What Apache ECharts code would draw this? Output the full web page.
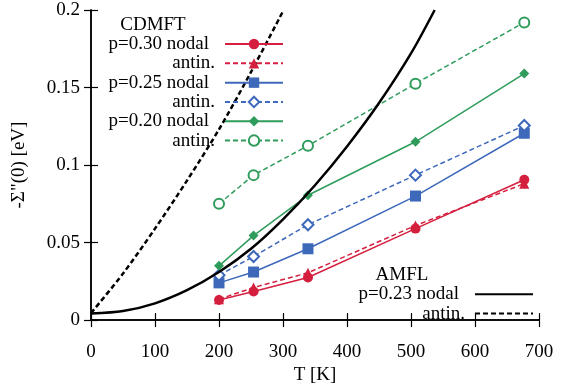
<!DOCTYPE html>
<html>
<head>
<meta charset="utf-8">
<script src="https://cdn.jsdelivr.net/npm/echarts@6/dist/echarts.min.js"></script>
<style>
html,body{margin:0;padding:0;background:#fff;}
#chart{width:570px;height:390px;}
</style>
</head>
<body>
<div id="chart"></div>
<script>
// ---- data ----
const temps = [200, 254, 339, 507, 677];
const p30Nodal = [0.013, 0.0185, 0.0275, 0.059, 0.0905];
const p30Antin = [0.0135, 0.021, 0.0305, 0.061, 0.088];
const p25Nodal = [0.024, 0.031, 0.046, 0.080, 0.1205];
const p25Antin = [0.029, 0.041, 0.0615, 0.0935, 0.1255];
const p20Nodal = [0.035, 0.0545, 0.0805, 0.115, 0.159];
const p20Antin = [0.075, 0.0935, 0.1125, 0.1525, 0.192];

const amflNodalT = [0, 50, 100, 150, 200, 250, 300, 350, 400, 450, 500, 537];
const amflNodalV = [0.0042, 0.0058, 0.0108, 0.0193, 0.031, 0.046, 0.065, 0.087, 0.112, 0.140, 0.172, 0.2];
const amflAntinT = [0, 50, 100, 150, 200, 250, 301];
const amflAntinV = [0.0045, 0.030, 0.059, 0.090, 0.123, 0.160, 0.2];

const xTicks = [0, 100, 200, 300, 400, 500, 600, 700];
const yTicks = [0, 0.05, 0.1, 0.15, 0.2];

const RED = '#d51f3e', BLUE = '#3e69bb', GREEN = '#2f9c5c';
const FONT = 'Liberation Serif';

function pairs(xs, ys) { return xs.map((x, i) => [x, ys[i]]); }

function cdmft(name, vals, color, symbol, size, dashed) {
  const empty = symbol.indexOf('empty') === 0;
  return {
    name, type: 'line', data: pairs(temps, vals),
    symbol, symbolSize: size, showSymbol: true,
    lineStyle: { color, width: 1.5, type: dashed ? [5, 3] : 'solid' },
    itemStyle: empty ? { color, borderColor: color, borderWidth: 1.8 } : { color, borderWidth: 0 },
    z: 2
  };
}

const series = [
  cdmft('p=0.30 nodal', p30Nodal, RED, 'circle', 10, false),
  cdmft('p=0.30 antin.', p30Antin, RED, 'triangle', 10, true),
  cdmft('p=0.25 nodal', p25Nodal, BLUE, 'rect', 11, false),
  cdmft('p=0.25 antin.', p25Antin, BLUE, 'emptyDiamond', 11, true),
  cdmft('p=0.20 nodal', p20Nodal, GREEN, 'diamond', 10, false),
  cdmft('p=0.20 antin.', p20Antin, GREEN, 'emptyCircle', 10, true),
  {
    name: 'p=0.23 nodal', type: 'line', data: pairs(amflNodalT, amflNodalV),
    smooth: 0.3, symbol: 'circle', showSymbol: false,
    lineStyle: { color: '#000', width: 2.5 }, itemStyle: { color: '#000' }, z: 3
  },
  {
    name: 'p=0.23 antin.', type: 'line', data: pairs(amflAntinT, amflAntinV),
    smooth: 0.3, symbol: 'circle', showSymbol: false,
    lineStyle: { color: '#000', width: 2.5, type: [5, 3] }, itemStyle: { color: '#000' }, z: 3
  }
];

const fmtName = n => (n.endsWith('antin.') ? '{a|antin.}' : '{n|' + n + '}');
const richStyles = {
  a: { fontFamily: FONT, fontSize: 19, color: '#000', padding: [0, 0, 0, 0] },
  n: { fontFamily: FONT, fontSize: 19, color: '#000', padding: [0, 6, 0, 0] }
};
const legendText = { fontFamily: FONT, fontSize: 19, color: '#000', width: 115, align: 'right', lineHeight: 19.3, padding: [0, 5, 0, 0], rich: richStyles };

const axisCommon = {
  axisLine: { show: true, lineStyle: { color: '#000', width: 1.5 } },
  axisTick: { show: true, inside: true, length: 7, lineStyle: { color: '#000', width: 1.2 } },
  splitLine: { show: false }
};

const option = {
  animation: false,
  backgroundColor: '#fff',
  grid: { left: 91, right: 31, top: 10, bottom: 60 },
  xAxis: [
    Object.assign({
      type: 'value', min: xTicks[0], max: xTicks[xTicks.length - 1], interval: 100,
      name: 'T [K]', nameLocation: 'middle', nameGap: 45,
      nameTextStyle: { fontFamily: FONT, fontSize: 19, color: '#000' },
      axisLabel: { fontFamily: FONT, fontSize: 19, color: '#000', margin: 22 }
    }, axisCommon),
    Object.assign({
      type: 'value', position: 'top', min: 0, max: 700, interval: 100,
      axisLabel: { show: false }
    }, axisCommon)
  ],
  yAxis: [
    Object.assign({
      type: 'value', min: yTicks[0], max: yTicks[yTicks.length - 1], interval: 0.05,
      name: '-Σ"(0) [eV]', nameLocation: 'middle', nameGap: 62, nameRotate: 90,
      nameTextStyle: { fontFamily: FONT, fontSize: 19, color: '#000' },
      axisLabel: { fontFamily: FONT, fontSize: 19, color: '#000', margin: 11 }
    }, axisCommon),
    Object.assign({
      type: 'value', position: 'right', min: 0, max: 0.2, interval: 0.05,
      axisLabel: { show: false }
    }, axisCommon)
  ],
  legend: [
    {
      data: series.slice(0, 6).map(s => s.name),
      orient: 'vertical', align: 'right', left: 100, top: 34.4, padding: 0,
      itemWidth: 58, itemHeight: 13, itemGap: 0,
      selectedMode: false, formatter: fmtName, textStyle: legendText
    },
    {
      data: series.slice(6).map(s => ({ name: s.name, itemStyle: { opacity: 0 } })),
      orient: 'vertical', align: 'right', left: 350, top: 284.6, padding: 0,
      itemWidth: 58, itemHeight: 13, itemGap: 0,
      selectedMode: false, formatter: fmtName, textStyle: legendText
    }
  ],
  graphic: [
    { type: 'text', style: { text: 'CDMFT', font: '19px "Liberation Serif"', fill: '#000', x: 153, y: 25, align: 'center', verticalAlign: 'middle' } },
    { type: 'text', style: { text: 'AMFL', font: '19px "Liberation Serif"', fill: '#000', x: 402, y: 275, align: 'center', verticalAlign: 'middle' } }
  ],
  series
};

const chart = echarts.init(document.getElementById('chart'), null, { renderer: 'canvas' });
chart.setOption(option);
</script>
</body>
</html>
